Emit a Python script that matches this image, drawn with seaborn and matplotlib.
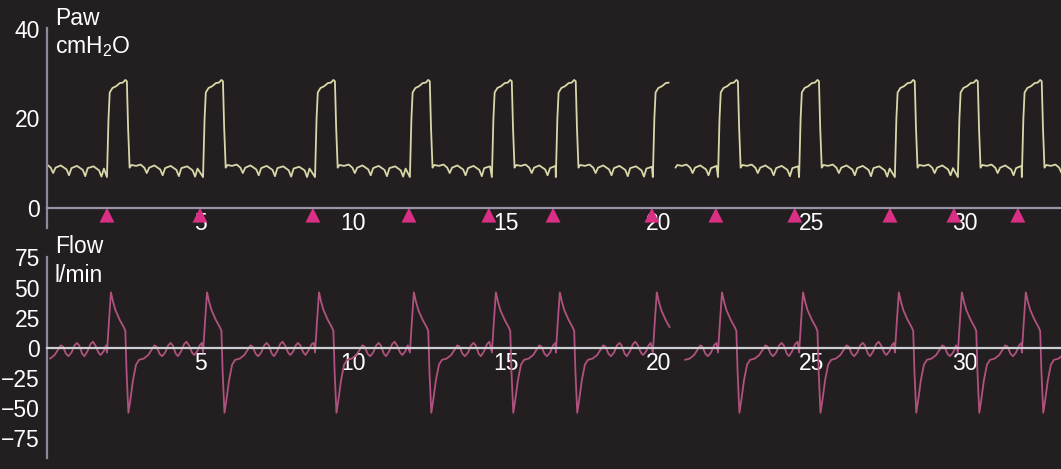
import matplotlib.pyplot as plt
import matplotlib.ticker as mticker
import pandas as pd
import seaborn as sns

# breath onsets in s, read off the pressure upstrokes
# (the first one is the breath still running when the sweep starts)
onsets = [-1.10, 1.96, 5.10, 8.76, 11.86, 14.54, 16.63, 19.80, 21.93, 24.58, 27.71, 29.77, 31.86]
trigger_marks = [1.96, 5.00, 8.69, 11.83, 14.44, 16.54, 19.77, 21.86, 24.44, 27.55, 29.64, 31.73]
paw_gap = (20.37, 20.50)
flow_gap = (20.37, 20.80)
x_end = 33.14

# one breath, time from onset (s) -> airway pressure (cmH2O)
paw_t = [0.00, 0.05, 0.09, 0.18, 0.30, 0.42, 0.52, 0.60, 0.65, 0.69, 0.74, 0.80, 0.95,
         1.10, 1.22, 1.30, 1.38, 1.55, 1.74, 1.82, 1.90, 2.08, 2.27, 2.35, 2.43, 2.62,
         2.80, 2.88, 2.96, 3.14, 3.32, 3.40, 3.48, 3.66, 3.84, 3.92]
paw_v = [6.9, 20.0, 25.8, 26.8, 27.2, 27.9, 28.0, 28.6, 28.3, 18.0, 9.0, 9.6, 9.4,
         9.7, 9.0, 7.8, 9.0, 9.5, 8.6, 7.3, 8.9, 9.4, 8.5, 7.1, 8.9, 9.3,
         8.4, 7.0, 8.8, 9.2, 8.4, 6.9, 8.8, 9.2, 8.4, 6.9]

# one breath, time from onset (s) -> flow (l/min)
flow_t = [0.00, 0.06, 0.13, 0.20, 0.28, 0.42, 0.55, 0.60, 0.64, 0.70, 0.76, 0.85, 0.95,
          1.05, 1.20, 1.35, 1.45, 1.55, 1.62, 1.72, 1.80, 1.90, 2.00, 2.08, 2.15,
          2.25, 2.32, 2.42, 2.52, 2.60, 2.68, 2.78, 2.85, 2.95, 3.03, 3.10, 3.18,
          3.28, 3.35, 3.45, 3.55, 3.62, 3.70, 3.80, 3.85]
flow_v = [-4, 20, 46, 38, 31, 23, 17, 14, -20, -54, -44, -27, -14,
          -10, -9, -6, -2, 2, 1, -5, -7, -4, 2, 4, 2,
          -5, -7, -3, 3, 5, 2, -4, -6, -3, 2, 4, 2,
          -4, -6, -2, 3, 4, 1, -5, -6]

bg = "#231f20"
grid_col = "#8e8899"


def build(tt, vv, gap):
    rows = []
    for i, t0 in enumerate(onsets):
        t1 = onsets[i + 1] if i + 1 < len(onsets) else x_end + 0.5
        for dt, v in zip(tt, vv):
            t = t0 + dt
            if t >= t1:
                break
            if t < 0 or gap[0] < t < gap[1]:
                continue
            rows.append((t, v, 0 if t <= gap[0] else 1))
    return pd.DataFrame(rows, columns=["t", "v", "seg"])


def style_axis(ax, yticks, zero_col):
    ax.set_facecolor(bg)
    for s in ["top", "right"]:
        ax.spines[s].set_visible(False)
    ax.spines["left"].set_color(grid_col)
    ax.spines["left"].set_linewidth(1.6)
    ax.spines["bottom"].set_position(("data", 0))
    ax.spines["bottom"].set_color(zero_col)
    ax.spines["bottom"].set_linewidth(1.6)
    ax.set_xlim(0, x_end)
    ax.set_yticks(yticks)
    ax.set_xticks([5, 10, 15, 20, 25, 30])
    ax.xaxis.set_minor_locator(mticker.MultipleLocator(1))
    ax.tick_params(axis="y", length=0, pad=5, labelsize=16.5, labelcolor="white")
    ax.tick_params(axis="x", which="both", direction="inout", length=2.5, width=1.8,
                   color="#c4c0cc", pad=2, labelsize=16.5, labelcolor="white")
    ax.set_xlabel("")
    ax.set_ylabel("")


sns.set_style("dark")
plt.rcParams["font.family"] = ["Liberation Sans", "DejaVu Sans"]

fig = plt.figure(figsize=(10.61, 4.69), dpi=100, facecolor=bg)
ax1 = fig.add_axes([0.0443, 0.5139, 0.9557, 0.4264])
ax2 = fig.add_axes([0.0443, 0.02345, 0.9557, 0.4285])

paw = build(paw_t, paw_v, paw_gap)
flow = build(flow_t, flow_v, flow_gap)

sns.lineplot(data=paw, x="t", y="v", units="seg", estimator=None, sort=False,
             color="#d9d6a8", lw=1.3, ax=ax1, legend=False)
sns.scatterplot(x=trigger_marks, y=[-1.6] * len(trigger_marks), marker="^", s=115,
                color="#d93086", edgecolor="none", ax=ax1, zorder=2)
ax1.set_ylim(-4.47, 40.2)
style_axis(ax1, [0, 20, 40], "#9a94a6")

sns.lineplot(data=flow, x="t", y="v", units="seg", estimator=None, sort=False,
             color="#b0527e", lw=1.3, ax=ax2, legend=False)
ax2.set_ylim(-91.5, 75.3)
style_axis(ax2, [-75, -50, -25, 0, 25, 50, 75], "#cfcfd6")

fig.text(0.0518, 0.9467, "Paw", color="white", fontsize=16.5, va="baseline")
fig.text(0.0518, 0.887, r"cmH$_\mathregular{2}$O", color="white", fontsize=16.5, va="baseline")
fig.text(0.0518, 0.4606, "Flow", color="white", fontsize=16.5, va="baseline")
fig.text(0.0518, 0.3987, "l/min", color="white", fontsize=16.5, va="baseline")

fig.savefig("out.png", dpi=100, facecolor=bg)
